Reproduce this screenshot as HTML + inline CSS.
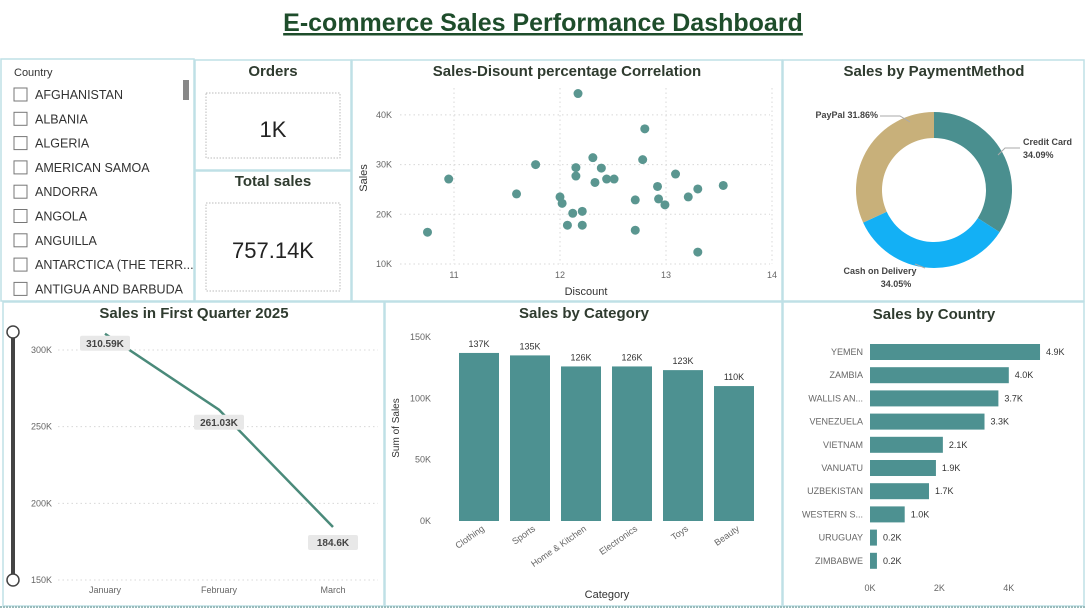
<!DOCTYPE html>
<html><head><meta charset="utf-8"><style>
body{margin:0;width:1085px;height:609px;background:#fff;overflow:hidden;font-family:"Liberation Sans",sans-serif}
svg{display:block}
.t{font-weight:bold;fill:#2f3b2f;font-size:15px;text-anchor:middle}
.ax{font-size:9px;fill:#666}
.pan{fill:#fff;stroke:#bfe0e6;stroke-width:1.5}
.grid{stroke:#d8d8d8;stroke-dasharray:1.5 3}
</style></head><body>
<svg id="s" width="1085" height="609" xmlns="http://www.w3.org/2000/svg">
<rect width="1085" height="609" fill="#fff"/>
<text x="543" y="31" text-anchor="middle" font-size="25" font-weight="bold" fill="#1e4d2b" text-decoration="underline">E-commerce Sales Performance Dashboard</text>
<rect class="pan" x="1" y="59" width="193" height="242" stroke="#e6e6e6"/>
<rect class="pan" x="195" y="60" width="156" height="110"/>
<rect class="pan" x="195" y="171" width="156" height="130"/>
<rect class="pan" x="352" y="60" width="430" height="241"/>
<rect class="pan" x="783" y="60" width="301" height="241"/>
<rect class="pan" x="3" y="302" width="381" height="304"/>
<rect class="pan" x="385" y="302" width="397" height="304"/>
<rect class="pan" x="783" y="302" width="301" height="304"/>
<line x1="0" y1="607" x2="1085" y2="607" stroke="#9bb" stroke-dasharray="2 1" stroke-width="2"/>
<text x="14" y="76" font-size="11" fill="#333">Country</text>
<rect x="183" y="80" width="6" height="20" fill="#888"/>
<g id="slicer"></g>
<text x="273" y="76" class="t">Orders</text>
<rect x="206" y="93" width="134" height="65" fill="none" stroke="#bbb" stroke-dasharray="1.5 1.5"/>
<text x="273" y="137" text-anchor="middle" font-size="22" fill="#222">1K</text>
<text x="273" y="186" class="t">Total sales</text>
<rect x="206" y="203" width="134" height="88" fill="none" stroke="#bbb" stroke-dasharray="1.5 1.5"/>
<text x="273" y="258" text-anchor="middle" font-size="22" fill="#222">757.14K</text>
<text x="567" y="76" class="t">Sales-Disount percentage Correlation</text>
<text x="934" y="76" class="t">Sales by PaymentMethod</text>
<text x="194" y="318" class="t">Sales in First Quarter 2025</text>
<text x="584" y="318" class="t">Sales by Category</text>
<text x="934" y="319" class="t">Sales by Country</text>
<g id="scatter"></g><g id="donut"></g><g id="line"></g><g id="bars"></g><g id="hbars"></g>
</svg>
<script>
const NS='http://www.w3.org/2000/svg';
function mk(p,tag,a,txt){const e=document.createElementNS(NS,tag);for(const k in a)e.setAttribute(k,a[k]);if(txt!==undefined)e.textContent=txt;p.appendChild(e);return e;}
const countries=['AFGHANISTAN','ALBANIA','ALGERIA','AMERICAN SAMOA','ANDORRA','ANGOLA','ANGUILLA','ANTARCTICA (THE TERR...','ANTIGUA AND BARBUDA'];
const scatterX=[10.75,10.95,11.59,11.77,12.17,12.0,12.02,12.12,12.07,12.21,12.21,12.15,12.15,12.31,12.39,12.33,12.44,12.51,12.71,12.71,12.78,12.80,12.92,12.93,12.99,13.09,13.21,13.30,13.30,13.54];
const scatterY=[16.4,27.1,24.1,30.0,44.3,23.5,22.2,20.2,17.8,20.6,17.8,29.4,27.7,31.4,29.3,26.4,27.1,27.1,22.9,16.8,31.0,37.2,25.6,23.1,21.9,28.1,23.5,25.1,12.4,25.8];
const scatterXTicks=[11,12,13,14];
const scatterYTicks=[10,20,30,40];
const payLabels=['Credit Card','Cash on Delivery','PayPal'];
const payValues=[34.09,34.05,31.86];
const months=['January','February','March'];
const monthSales=[310.59,261.03,184.6];
const monthLabels=['310.59K','261.03K','184.6K'];
const lineTicks=[150,200,250,300];
const categories=['Clothing','Sports','Home & Kitchen','Electronics','Toys','Beauty'];
const catSales=[137,135,126,126,123,110];
const catTicks=[0,50,100,150];
const ctry=['YEMEN','ZAMBIA','WALLIS AN...','VENEZUELA','VIETNAM','VANUATU','UZBEKISTAN','WESTERN S...','URUGUAY','ZIMBABWE'];
const ctryVals=[4.9,4.0,3.7,3.3,2.1,1.9,1.7,1.0,0.2,0.2];
const ctryTicks=[0,2,4];
const teal='#4d9191';
// slicer
const sl=document.getElementById('slicer');
countries.forEach((c,i)=>{const y=94+i*24.3;
const r=mk(sl,'rect',{x:14,y:y-6,width:13,height:13,fill:'#fff',stroke:'#777'});

const t=mk(sl,'text',{x:35,y:y+5,'font-size':12.5,fill:'#333'},c);
});
// scatter
const sc=document.getElementById('scatter');
const sx=v=>454+(v-11)*106, sy=v=>264-(v-10)*4.97;
scatterYTicks.forEach(v=>{mk(sc,'line',{x1:400,x2:770,y1:sy(v),y2:sy(v),class:'grid'});mk(sc,'text',{x:392,y:sy(v)+3,class:'ax','text-anchor':'end'},v+'K');});
scatterXTicks.forEach(v=>{mk(sc,'line',{x1:sx(v),x2:sx(v),y1:88,y2:264,class:'grid'});mk(sc,'text',{x:sx(v),y:278,class:'ax','text-anchor':'middle'},v);});
mk(sc,'text',{x:586,y:295,'font-size':11,fill:'#333','text-anchor':'middle'},'Discount');
mk(sc,'text',{x:367,y:178,'font-size':11,fill:'#333','text-anchor':'middle',transform:'rotate(-90 367 178)'},'Sales');
scatterX.forEach((v,i)=>{const c=mk(sc,'circle',{cx:sx(v),cy:sy(scatterY[i]),r:4.5,fill:'#5a9690'});
});
// donut
const dn=document.getElementById('donut');const cx=934,cy=190,R=78,r0=52;
const cols=['#4a8f8f','#13b0f5','#c8b07a'];let tot=payValues.reduce((a,b)=>a+b,0),a0=0;
payValues.forEach((v,i)=>{const a1=a0+v/tot*2*Math.PI;const P=(a,r)=>[cx+r*Math.sin(a),cy-r*Math.cos(a)];
const[x1,y1]=P(a0,R),[x2,y2]=P(a1,R),[x3,y3]=P(a1,r0),[x4,y4]=P(a0,r0);const lg=(a1-a0)>Math.PI?1:0;
const p=mk(dn,'path',{d:`M${x1} ${y1}A${R} ${R} 0 ${lg} 1 ${x2} ${y2}L${x3} ${y3}A${r0} ${r0} 0 ${lg} 0 ${x4} ${y4}Z`,fill:cols[i]});
a0=a1;});
mk(dn,'text',{x:1023,y:145,'font-size':9,'font-weight':'bold',fill:'#444'},payLabels[0]);
mk(dn,'text',{x:1023,y:158,'font-size':9,'font-weight':'bold',fill:'#444'},payValues[0]+'%');
mk(dn,'text',{x:880,y:274,'font-size':9,'font-weight':'bold',fill:'#444','text-anchor':'middle'},payLabels[1]);
mk(dn,'text',{x:896,y:287,'font-size':9,'font-weight':'bold',fill:'#444','text-anchor':'middle'},payValues[1]+'%');
mk(dn,'text',{x:878,y:118,'font-size':9,'font-weight':'bold',fill:'#444','text-anchor':'end'},payLabels[2]+' '+payValues[2]+'%');
mk(dn,'polyline',{points:'880,116 900,116 910,122',fill:'none',stroke:'#aaa'});
mk(dn,'polyline',{points:'1020,148 1005,148 998,155',fill:'none',stroke:'#aaa'});
mk(dn,'polyline',{points:'925,268 915,264',fill:'none',stroke:'#aaa'});
// line
const ln=document.getElementById('line');const lx=i=>105+i*114, ly=v=>580-(v-150)*230/150;
lineTicks.forEach(v=>{mk(ln,'line',{x1:58,x2:378,y1:ly(v),y2:ly(v),class:'grid'});mk(ln,'text',{x:52,y:ly(v)+3,class:'ax','text-anchor':'end'},v+'K');});
months.forEach((m,i)=>mk(ln,'text',{x:lx(i),y:593,class:'ax','text-anchor':'middle'},m));
mk(ln,'line',{x1:13,x2:13,y1:332,y2:580,stroke:'#444','stroke-width':4});
mk(ln,'circle',{cx:13,cy:332,r:6,fill:'#fff',stroke:'#444','stroke-width':1.5});
mk(ln,'circle',{cx:13,cy:580,r:6,fill:'#fff',stroke:'#444','stroke-width':1.5});
const pl=mk(ln,'polyline',{points:monthSales.map((v,i)=>lx(i)+','+ly(v)).join(' '),fill:'none',stroke:'#4a8a7a','stroke-width':2.5});

const off=[[0,10],[0,13],[0,16]];
monthSales.forEach((v,i)=>{const x=lx(i)+off[i][0],y=ly(v)+off[i][1];
mk(ln,'rect',{x:x-25,y:y-8,width:50,height:15,rx:2,fill:'#e8e8e8'});
mk(ln,'text',{x:x,y:y+3,'font-size':10,'font-weight':'bold',fill:'#444','text-anchor':'middle'},monthLabels[i]);});
// bars
const br=document.getElementById('bars');const by=v=>521-v*184/150, bxc=i=>479+i*51;
catTicks.forEach(v=>{mk(br,'text',{x:431,y:by(v)+3,class:'ax','text-anchor':'end'},v+'K');});
mk(br,'text',{x:399,y:428,'font-size':10,fill:'#333','text-anchor':'middle',transform:'rotate(-90 399 428)'},'Sum of Sales');
mk(br,'text',{x:607,y:598,'font-size':11,fill:'#333','text-anchor':'middle'},'Category');
catSales.forEach((v,i)=>{const b=mk(br,'rect',{x:bxc(i)-20,y:by(v),width:40,height:521-by(v),fill:teal});

mk(br,'text',{x:bxc(i),y:by(v)-6,'font-size':9,fill:'#333','text-anchor':'middle'},v+'K');
mk(br,'text',{x:bxc(i)+6,y:530,class:'ax','text-anchor':'end',transform:`rotate(-35 ${bxc(i)+6} 530)`},categories[i]);});
// hbars
const hb=document.getElementById('hbars');const hx=v=>870+v*34.7, hy=i=>352+i*23.2;
ctryTicks.forEach(v=>mk(hb,'text',{x:hx(v),y:591,class:'ax','text-anchor':'middle'},v+'K'));
ctryVals.forEach((v,i)=>{const b=mk(hb,'rect',{x:870,y:hy(i)-8,width:hx(v)-870,height:16,fill:teal});

mk(hb,'text',{x:863,y:hy(i)+3,class:'ax','text-anchor':'end'},ctry[i]);
mk(hb,'text',{x:hx(v)+6,y:hy(i)+3,'font-size':9,fill:'#333'},v.toFixed(1)+'K');});
</script>
</body></html>
